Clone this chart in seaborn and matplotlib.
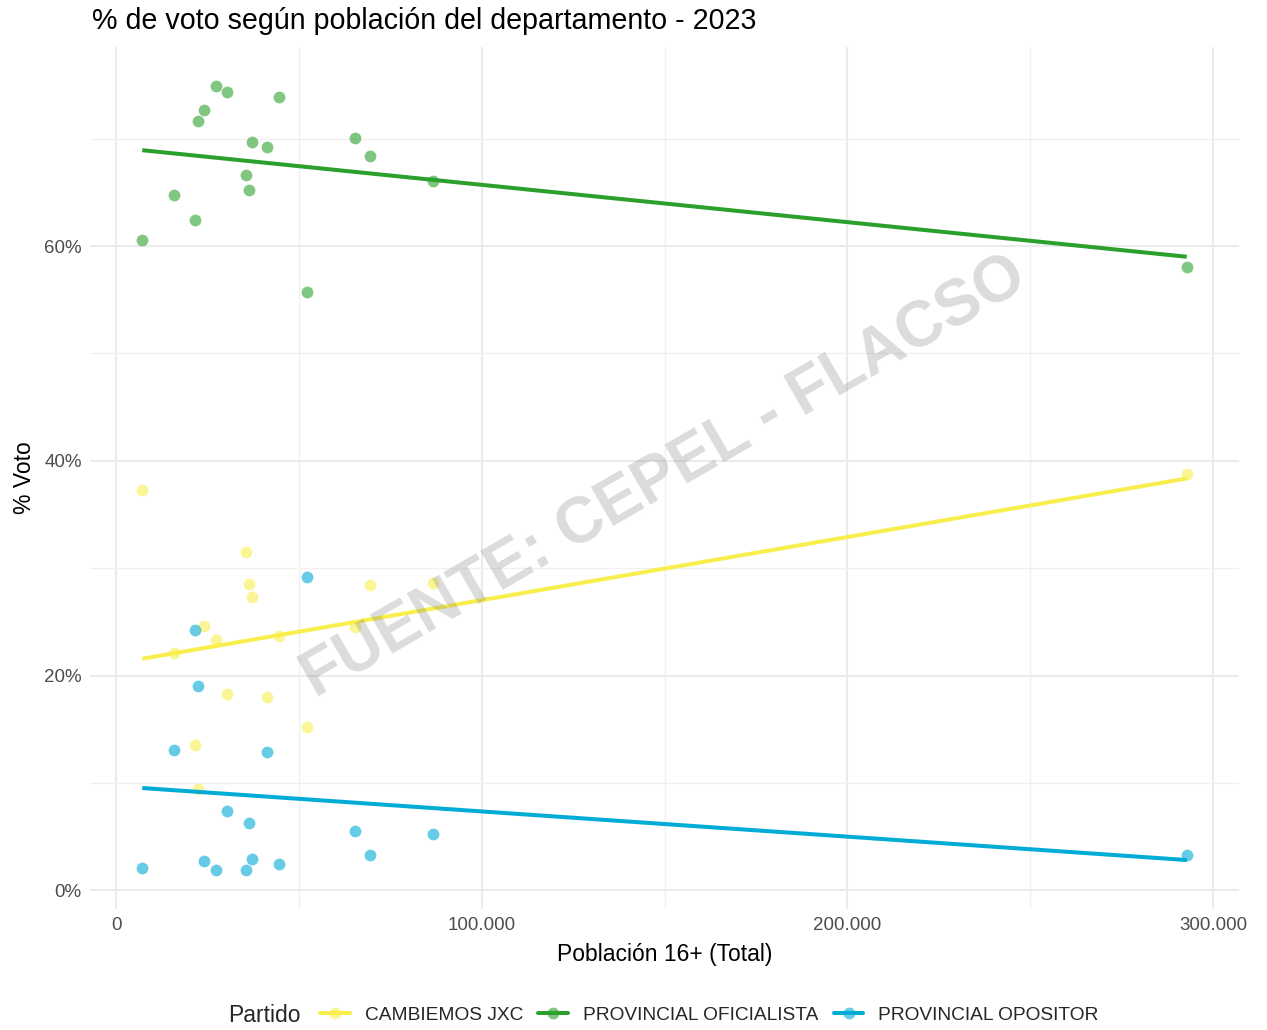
import matplotlib
matplotlib.use("Agg")
import matplotlib.pyplot as plt
import seaborn as sns
import pandas as pd
from matplotlib.lines import Line2D
from matplotlib.ticker import FuncFormatter, MultipleLocator

# ---- data ----
poblacion = [7100, 15850, 21600, 22400, 24050, 27350, 30350, 35550, 36350,
             37200, 41300, 44550, 52200, 65350, 69450, 86650, 292800]
cambiemos = [37.3, 22.1, 13.5, 9.4, 24.6, 23.3, 18.3, 31.5, 28.5,
             27.3, 18.0, 23.7, 15.2, 24.5, 28.4, 28.6, 38.8]
oficialista = [60.6, 64.8, 62.4, 71.7, 72.7, 74.9, 74.4, 66.6, 65.2,
               69.7, 69.2, 73.9, 55.7, 70.1, 68.4, 66.1, 58.1]
opositor = [2.1, 13.1, 24.2, 19.0, 2.7, 1.9, 7.4, 1.9, 6.3,
            2.9, 12.9, 2.4, 29.2, 5.5, 3.3, 5.2, 3.3]

partidos = ["CAMBIEMOS JXC", "PROVINCIAL OFICIALISTA", "PROVINCIAL OPOSITOR"]
colores = ["#F8EF4E", "#2CA02C", "#00ABD6"]

df = pd.concat([
    pd.DataFrame({"poblacion": poblacion, "voto": cambiemos, "Partido": partidos[0]}),
    pd.DataFrame({"poblacion": poblacion, "voto": oficialista, "Partido": partidos[1]}),
    pd.DataFrame({"poblacion": poblacion, "voto": opositor, "Partido": partidos[2]}),
], ignore_index=True)

sns.set_theme(style="white")
plt.rcParams["font.family"] = ["Liberation Sans", "DejaVu Sans"]

W, H = 1267, 1030
fig = plt.figure(figsize=(W / 100, H / 100), dpi=100)
ax = fig.add_axes([90 / W, 1 - 909 / H, (1239 - 90) / W, (909 - 47) / H])

for p, c in zip(partidos, colores):
    sub = df[df["Partido"] == p]
    sns.regplot(data=sub, x="poblacion", y="voto", ax=ax, ci=None, truncate=True,
                scatter_kws=dict(s=72, color=c, alpha=0.6, linewidths=0, zorder=3),
                line_kws=dict(color=c, lw=2.9, solid_capstyle="butt", zorder=4))

ax.margins(0.05)
ax.set_xlim(ax.get_xlim())

# grid like theme_minimal
ax.xaxis.set_major_locator(MultipleLocator(100000))
ax.xaxis.set_minor_locator(MultipleLocator(50000))
ax.yaxis.set_major_locator(MultipleLocator(20))
ax.yaxis.set_minor_locator(MultipleLocator(10))
ax.grid(which="major", color="#EBEBEB", lw=1.5, zorder=0)
ax.grid(which="minor", color="#F0F0F0", lw=1.0, zorder=0)
ax.set_axisbelow(True)
for s in ax.spines.values():
    s.set_visible(False)

ax.xaxis.set_major_formatter(FuncFormatter(lambda v, pos: f"{int(round(v)):,}".replace(",", ".")))
ax.yaxis.set_major_formatter(FuncFormatter(lambda v, pos: f"{int(round(v))}%"))
ax.tick_params(axis="both", which="both", length=0, labelsize=13.5, labelcolor="#4D4D4D", pad=6)

ax.set_xlabel("Población 16+ (Total)", fontsize=16.5, color="black", labelpad=6)
ax.set_ylabel("% Voto", fontsize=16.5, color="black", labelpad=6)

# watermark
ax.text(0.5, 0.5, "FUENTE: CEPEL - FLACSO", transform=ax.transAxes, rotation=30,
        ha="center", va="center", fontsize=46, fontweight="bold", color="grey",
        alpha=0.28, zorder=5)

fig.text(92 / W, 1 - 21 / H, "% de voto según población del departamento - 2023",
         ha="left", va="center", fontsize=20.6, color="black")

# legend at bottom
handles = [Line2D([], [], color=c, lw=2.9, marker="o", markersize=8.5,
                  markerfacecolor=matplotlib.colors.to_rgba(c, 0.6),
                  markeredgewidth=0) for c in colores]
fig.text(228 / W, 1 - 1015 / H, "Partido", ha="left", va="center", fontsize=16.5)
leg = fig.legend(handles, partidos, loc="center left",
                 bbox_to_anchor=(320 / W, 1 - 1015 / H), ncol=3, frameon=False,
                 fontsize=13.8, handlelength=1.55, handletextpad=0.78,
                 columnspacing=0.8, borderpad=0, borderaxespad=0)

fig.savefig("out.png", dpi=100)
